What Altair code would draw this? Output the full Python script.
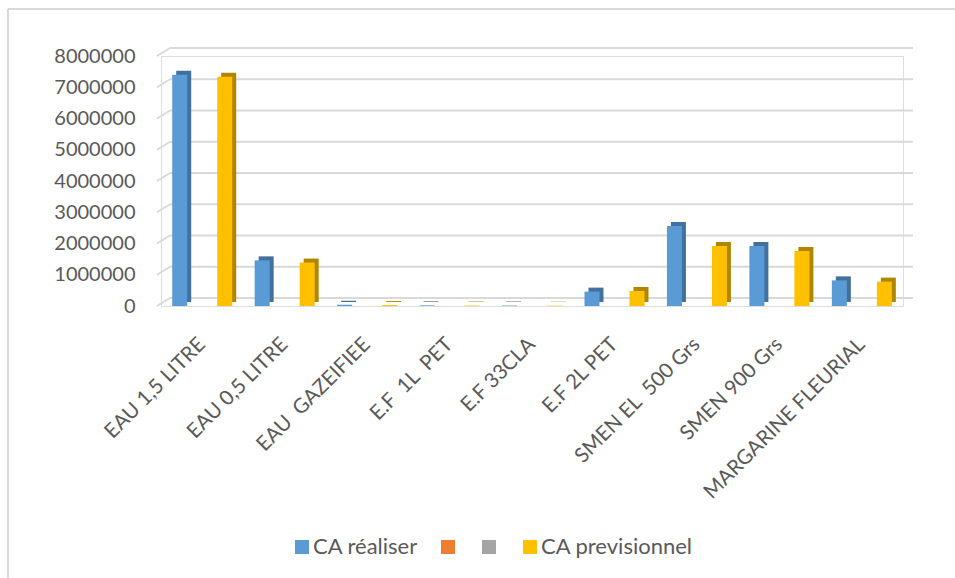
import altair as alt
import pandas as pd

categories = ["EAU 1,5 LITRE", "EAU 0,5 LITRE", "EAU \u00a0GAZEIFIEE", "E.F \u00a01L \u00a0PET",
              "E.F 33CLA", "E.F 2L PET", "SMEN EL \u00a0500 Grs", "SMEN 900 Grs",
              "MARGARINE FLEURIAL"]
ca_realiser = [7400000, 1460000, 40000, 20000, 15000, 460000, 2560000, 1920000, 820000]
ca_previsionnel = [7340000, 1390000, 30000, 15000, 10000, 480000, 1920000, 1760000, 780000]
series_all = ["CA réaliser", "s2", "s3", "CA previsionnel"]
front_colors = ["#5B9BD5", "#ED7D31", "#A5A5A5", "#FFC000"]
side_colors = ["#41719C", "#AE5A21", "#787878", "#B08600"]
y_ticks = [0, 1000000, 2000000, 3000000, 4000000, 5000000, 6000000, 7000000, 8000000]

rows = []
for c, a, b in zip(categories, ca_realiser, ca_previsionnel):
    rows.append({"cat": c, "series": "CA réaliser", "v": a})
    rows.append({"cat": c, "series": "CA previsionnel", "v": b})
df = pd.DataFrame(rows)
ticks_df = pd.DataFrame({"v": y_ticks})
one = pd.DataFrame({"a": [0]})

FONT = "Lato"
TXT = "#595959"
GRID = "#D9D9D9"

yscale = alt.Scale(domain=[0, 8000000], nice=False, zero=True)
xscale = alt.Scale(domain=categories, paddingInner=0.273, paddingOuter=0.136)

yaxis = alt.Axis(title=None, values=y_ticks, format="d", grid=False, ticks=False,
                 domain=False, labelPadding=26, labelFont=FONT, labelFontSize=20,
                 labelColor=TXT)
xaxis = alt.Axis(title=None, labelAngle=-45, labelAlign="right", labelBaseline="middle",
                 labelPadding=35, ticks=False, domain=False, labelFont=FONT,
                 labelFontSize=20.5, labelColor=TXT, labelLimit=300)

grid = alt.Chart(ticks_df).mark_rule(color=GRID, strokeWidth=2, yOffset=-8).encode(
    y=alt.Y("v:Q", scale=yscale, axis=yaxis),
    x=alt.value(9), x2=alt.value(752),
)
diag = alt.Chart(ticks_df).mark_rule(color=GRID, strokeWidth=2, y2Offset=-8).encode(
    y=alt.Y("v:Q", scale=yscale, axis=yaxis),
    y2=alt.Y2("v:Q"),
    x=alt.value(-4), x2=alt.value(9),
)

side = alt.Chart(df).mark_bar(yOffset=-4).encode(
    x=alt.X("cat:N", sort=categories, scale=xscale, axis=xaxis),
    xOffset=alt.XOffset("series:N", scale=alt.Scale(domain=series_all, range=[4, 64],
                                                    paddingInner=0, paddingOuter=0)),
    y=alt.Y("v:Q", scale=yscale, axis=yaxis),
    color=alt.Color("series:N", scale=alt.Scale(domain=series_all, range=side_colors), legend=None),
)

front = alt.Chart(df).mark_bar().encode(
    x=alt.X("cat:N", sort=categories, scale=xscale, axis=xaxis),
    xOffset=alt.XOffset("series:N", scale=alt.Scale(domain=series_all, range=[0, 60],
                                                    paddingInner=0, paddingOuter=0)),
    y=alt.Y("v:Q", scale=yscale, axis=yaxis),
    color=alt.Color("series:N", scale=alt.Scale(domain=series_all, range=front_colors),
                    legend=alt.Legend(title=None, orient="none", legendX=130, legendY=480,
                                      direction="horizontal", symbolType="square",
                                      symbolSize=196, symbolStrokeWidth=0, labelFont=FONT,
                                      labelFontSize=22, labelColor=TXT, labelOffset=0,
                                      columnPadding=19, padding=0,
                                      labelExpr="(datum.label == 's2' || datum.label == 's3') ? '' : datum.label + '\u00a0\u00a0'")),
)

border_left = alt.Chart(one).mark_rule(color=GRID, strokeWidth=2).encode(
    x=alt.value(-153), y=alt.value(-47), y2=alt.value(530))
border_top = alt.Chart(one).mark_rule(color=GRID, strokeWidth=2).encode(
    x=alt.value(-153), x2=alt.value(800), y=alt.value(-47))

chart = alt.layer(border_left, border_top, grid, diag, side, front).resolve_scale(
    color="independent", xOffset="independent"
).properties(
    width=742, height=250,
    autosize=alt.AutoSizeParams(type="none"),
    padding={"left": 161, "top": 56, "right": 52, "bottom": 272},
).configure_view(stroke=None).configure(background="white")

chart.save("out.html", embed_options={"renderer": "svg", "actions": False})
